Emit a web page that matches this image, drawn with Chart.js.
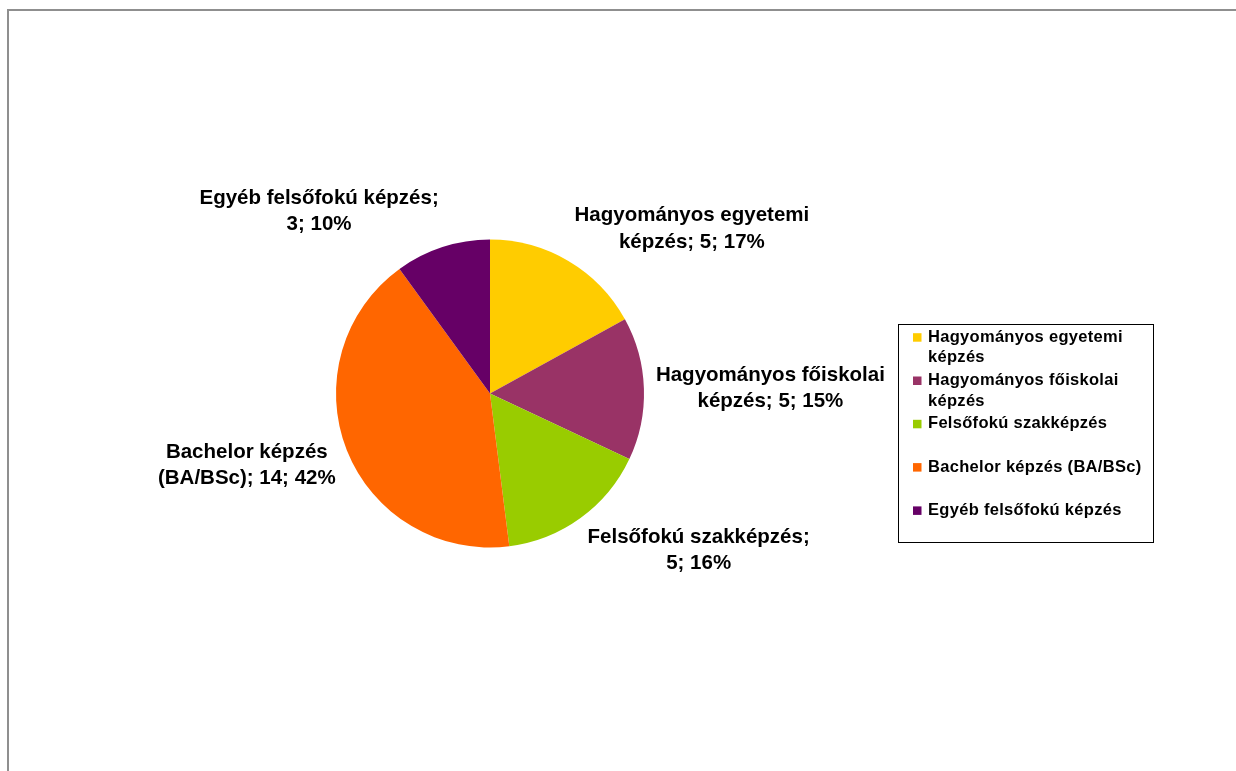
<!DOCTYPE html>
<html>
<head>
<meta charset="utf-8">
<script src="https://cdn.jsdelivr.net/npm/chart.js@4.4.1/dist/chart.umd.min.js"></script>
<style>
  html, body { margin: 0; padding: 0; background: #fff; overflow: hidden; }
  #frame { position: absolute; left: 7px; top: 9px; right: -10px; bottom: -10px;
           border-left: 2px solid #8f8f8f; border-top: 2px solid #8f8f8f; }
  #wrap { position: absolute; left: 0; top: 0; width: 1236px; height: 771px; }
</style>
</head>
<body>
<div id="frame"></div>
<div id="wrap"><canvas id="pie" width="1236" height="771"></canvas></div>
<script>
// --- DATA ---
const categories = [
  "Hagyományos egyetemi képzés",
  "Hagyományos főiskolai képzés",
  "Felsőfokú szakképzés",
  "Bachelor képzés (BA/BSc)",
  "Egyéb felsőfokú képzés"
];
const counts = [5, 5, 5, 14, 3];
const shares = [17, 15, 16, 42, 10];
const colors = ['#FFCC00', '#993366', '#99CC00', '#FF6600', '#660066'];

const FONT = '"Liberation Sans", Arial, sans-serif';

function wrapText(ctx, text, maxW) {
  const words = text.split(' ');
  const lines = [];
  let cur = '';
  words.forEach(w => {
    const test = cur ? cur + ' ' + w : w;
    if (cur && ctx.measureText(test).width > maxW) { lines.push(cur); cur = w; }
    else cur = test;
  });
  if (cur) lines.push(cur);
  return lines;
}

// --- SLICE LABELS ---
const sliceLabels = {
  id: 'sliceLabels',
  afterDatasetsDraw(chart) {
    const ctx = chart.ctx;
    const lineH = 26.5;
    ctx.save();
    ctx.font = 'bold 20.5px ' + FONT;
    ctx.fillStyle = '#000';
    ctx.textAlign = 'center';
    ctx.textBaseline = 'alphabetic';
    chart.getDatasetMeta(0).data.forEach((arc, i) => {
      const p = arc.getProps(['x', 'y', 'startAngle', 'endAngle', 'outerRadius'], true);
      const mid = (p.startAngle + p.endAngle) / 2;
      const px = p.x + (p.outerRadius + 12) * Math.cos(mid);
      const py = p.y + (p.outerRadius + 12) * Math.sin(mid);
      const lines = wrapText(ctx, `${categories[i]}; ${counts[i]}; ${shares[i]}%`, 242);
      const w = Math.max(...lines.map(l => ctx.measureText(l).width));
      const h = lines.length * lineH;
      const hx = Math.cos(mid), up = -Math.sin(mid);
      let cx = px;
      if (hx > 0.25) cx = px + w / 2;
      else if (hx < -0.25) cx = px - w / 2;
      const top = py - h * (1 + up) / 2;
      lines.forEach((l, k) => ctx.fillText(l, cx, top + k * lineH + 20));
    });
    ctx.restore();
  }
};

// --- LEGEND ---
const boxLegend = {
  id: 'boxLegend',
  afterDraw(chart) {
    const ctx = chart.ctx;
    ctx.save();
    ctx.strokeStyle = '#000';
    ctx.lineWidth = 1;
    ctx.strokeRect(898.5, 324.5, 255, 218);
    ctx.font = 'bold 16.5px ' + FONT;
    ctx.letterSpacing = '0.3px';
    ctx.textAlign = 'left';
    ctx.textBaseline = 'alphabetic';
    categories.forEach((name, i) => {
      const base = 341.7 + i * 43.3;
      ctx.fillStyle = colors[i];
      ctx.fillRect(913, base - 8.5, 8.5, 8.5);
      ctx.fillStyle = '#000';
      wrapText(ctx, name, 220).forEach((l, k) => ctx.fillText(l, 928, base + k * 20.6));
    });
    ctx.restore();
  }
};

new Chart(document.getElementById('pie'), {
  type: 'pie',
  data: {
    labels: categories,
    datasets: [{
      data: shares,
      backgroundColor: colors,
      borderWidth: 0,
      hoverOffset: 0,
      offset: 0
    }]
  },
  options: {
    responsive: false,
    devicePixelRatio: 1,
    animation: false,
    events: [],
    layout: { padding: { left: 336, right: 592, top: 239.5, bottom: 223.5 } },
    plugins: {
      legend: { display: false },
      tooltip: { enabled: false }
    }
  },
  plugins: [sliceLabels, boxLegend]
});
</script>
</body>
</html>
